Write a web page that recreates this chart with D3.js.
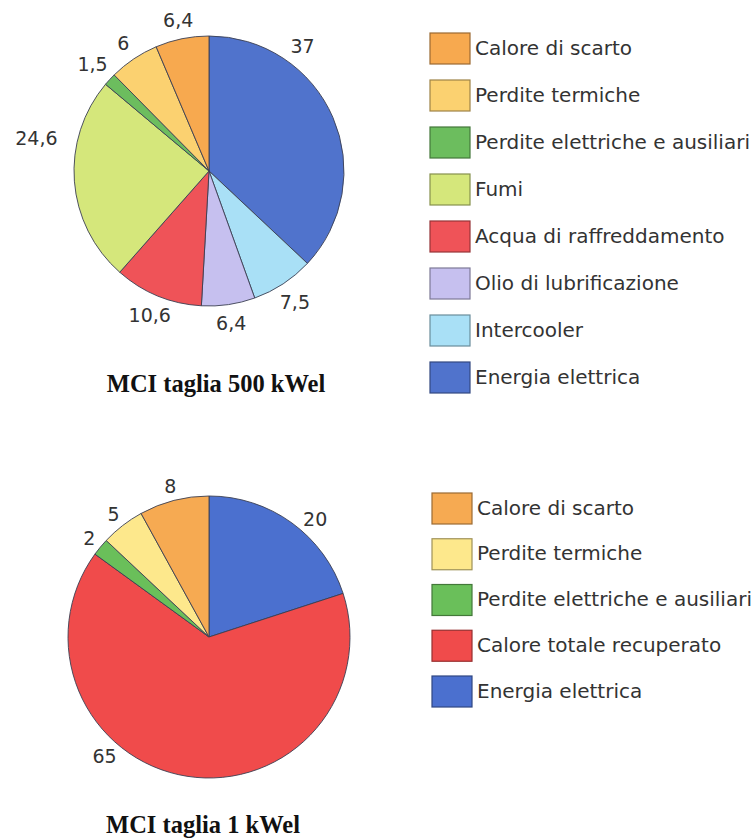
<!DOCTYPE html>
<html>
<head>
<meta charset="utf-8">
<script src="https://cdn.jsdelivr.net/npm/d3@7"></script>
<style>
  html, body { margin: 0; padding: 0; background: #ffffff; }
  svg { display: block; }
</style>
</head>
<body>
<svg id="chart" width="756" height="840"></svg>
<script>
// Energy balance of an internal combustion engine (MCI), two sizes.
// Slices are listed clockwise from 12 o'clock.

// MCI taglia 500 kWel
const cats500 = [
  "Energia elettrica", "Intercooler", "Olio di lubrificazione",
  "Acqua di raffreddamento", "Fumi", "Perdite elettriche e ausiliari",
  "Perdite termiche", "Calore di scarto"
];
const vals500 = [37, 7.5, 6.4, 10.6, 24.6, 1.5, 6, 6.4];
const labels500 = ["37", "7,5", "6,4", "10,6", "24,6", "1,5", "6", "6,4"];
const legend500 = [
  "Calore di scarto", "Perdite termiche", "Perdite elettriche e ausiliari",
  "Fumi", "Acqua di raffreddamento", "Olio di lubrificazione",
  "Intercooler", "Energia elettrica"
];
const title500 = "MCI taglia 500 kWel";

// MCI taglia 1 kWel
const cats1 = [
  "Energia elettrica", "Calore totale recuperato",
  "Perdite elettriche e ausiliari", "Perdite termiche", "Calore di scarto"
];
const vals1 = [20, 65, 2, 5, 8];
const labels1 = ["20", "65", "2", "5", "8"];
const legend1 = [
  "Calore di scarto", "Perdite termiche", "Perdite elettriche e ausiliari",
  "Calore totale recuperato", "Energia elettrica"
];
const title1 = "MCI taglia 1 kWel";

// Fill colours per category
const colors500 = {
  "Energia elettrica": "#5073cc",
  "Intercooler": "#a9e0f6",
  "Olio di lubrificazione": "#c6c0ef",
  "Acqua di raffreddamento": "#ef5358",
  "Fumi": "#d5e77b",
  "Perdite elettriche e ausiliari": "#6cbd5e",
  "Perdite termiche": "#fbd170",
  "Calore di scarto": "#f7a94f"
};
const colors1 = {
  "Energia elettrica": "#4b70cf",
  "Calore totale recuperato": "#f04b4b",
  "Perdite elettriche e ausiliari": "#6abf5a",
  "Perdite termiche": "#fde88c",
  "Calore di scarto": "#f6aa52"
};

const svg = d3.select("#chart");
const labelFont = "'DejaVu Sans', Verdana, sans-serif";

function drawPie(cfg) {
  const data = cfg.cats.map((c, i) => ({ name: c, value: cfg.vals[i], label: cfg.labels[i] }));
  const pie = d3.pie().value(d => d.value).sort(null);
  const arcs = pie(data);
  const arc = d3.arc().innerRadius(0).outerRadius(cfg.r);

  const g = svg.append("g").attr("transform", `translate(${cfg.cx},${cfg.cy})`);

  g.selectAll("path.slice")
    .data(arcs)
    .join("path")
    .attr("class", "slice")
    .attr("d", arc)
    .attr("fill", d => cfg.colors[d.data.name])
    .attr("stroke", "#3b3f52")
    .attr("stroke-width", 0.9)
    .attr("stroke-linejoin", "round");

  // value labels just outside the rim, pushed out by half the text box
  const lab = g.selectAll("text.val")
    .data(arcs)
    .join("text")
    .attr("class", "val")
    .attr("font-family", labelFont)
    .attr("font-size", 19)
    .attr("fill", "#333")
    .attr("text-anchor", "middle")
    .attr("dy", "0.36em")
    .text(d => d.data.label);

  lab.each(function (d) {
    const tw = cfg.tweak[d.data.name] || {};
    const f = tw.at !== undefined ? tw.at : 0.5;
    const a = d.startAngle + (d.endAngle - d.startAngle) * f;
    const dx = Math.sin(a), dy = -Math.cos(a);
    const bb = this.getBBox();
    const hw = bb.width / 2, hh = 7;
    const gap = cfg.gap + (tw.gap || 0);
    const rr = cfg.r + gap + dx * dx * hw + dy * dy * hh;
    d3.select(this).attr("x", dx * rr).attr("y", dy * rr);
  });

  svg.append("text")
    .attr("x", cfg.titleX)
    .attr("y", cfg.titleY)
    .attr("text-anchor", "middle")
    .attr("font-family", "'Liberation Serif', 'Times New Roman', serif")
    .attr("font-weight", "bold")
    .attr("font-size", 24.5)
    .attr("fill", "#111")
    .text(cfg.title);

  // legend
  const y = d3.scalePoint().domain(cfg.legend).range([cfg.legTop, cfg.legBottom]);
  const lg = svg.append("g");
  const rows = lg.selectAll("g.row")
    .data(cfg.legend)
    .join("g")
    .attr("class", "row")
    .attr("transform", d => `translate(${cfg.legX},${y(d)})`);
  rows.append("rect")
    .attr("width", 40)
    .attr("height", 31)
    .attr("fill", d => cfg.colors[d])
    .attr("stroke", d => d3.color(cfg.colors[d]).darker(1.3))
    .attr("stroke-width", 1.2);
  rows.append("text")
    .attr("x", 45)
    .attr("y", 21.5)
    .attr("font-family", labelFont)
    .attr("font-size", 20)
    .attr("fill", "#333")
    .text(d => d);
}

drawPie({
  cats: cats500, vals: vals500, labels: labels500, colors: colors500,
  legend: legend500, title: title500,
  cx: 209, cy: 171, r: 135, gap: 12,
  tweak: {
    "Energia elettrica": { at: 0.277 },
    "Fumi": { at: 0.67, gap: 8 }
  },
  titleX: 216, titleY: 392,
  legX: 430, legTop: 33, legBottom: 362
});

drawPie({
  cats: cats1, vals: vals1, labels: labels1, colors: colors1,
  legend: legend1, title: title1,
  cx: 209, cy: 637, r: 141, gap: 8,
  tweak: {
    "Energia elettrica": { at: 0.585 },
    "Calore totale recuperato": { at: 0.638 }
  },
  titleX: 203, titleY: 833,
  legX: 432, legTop: 493, legBottom: 676
});
</script>
</body>
</html>
